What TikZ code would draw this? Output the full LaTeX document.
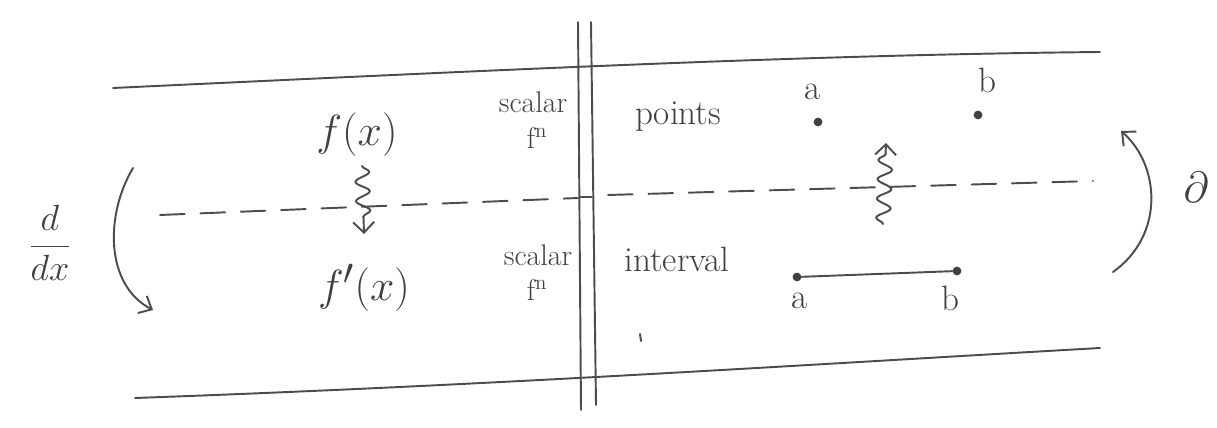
\documentclass[tikz,border=0pt]{standalone}
\usetikzlibrary{decorations.pathmorphing,arrows.meta}
\begin{document}
\begin{tikzpicture}[x=0.02cm,y=-0.02cm,
  ink/.style={draw=black!70, line width=1.1pt, line cap=round},
  dashline/.style={ink, dash pattern=on 14pt off 9pt},
  lbl/.style={text=black!75, inner sep=0pt},
  big/.style={lbl, font=\fontsize{32}{36}\selectfont},
  mid/.style={lbl, font=\fontsize{20}{23}\selectfont},
  small/.style={lbl, font=\fontsize{17}{18}\selectfont},
  pt/.style={circle, fill=black!75, inner sep=0pt, minimum size=5pt},
  wiggle/.style={ink, -{Straight Barb[length=6pt,width=12pt]},
    decorate, decoration={snake, amplitude=4pt, segment length=11pt, post length=5pt}},
  turnarrow/.style={ink, -{Straight Barb[length=6pt,width=11pt]}}]
\useasboundingbox (0,0) rectangle (1217,428);

% upper and lower borders
\coordinate (tl) at (113,88);  \coordinate (tr) at (1100,52);
\coordinate (bl) at (135,398); \coordinate (br) at (1100,348);
\draw[ink] (tl) .. controls (500,70) and (800,55) .. (tr);
\draw[ink] (bl) .. controls (500,385) and (800,365) .. (br);
\draw[ink] (640,334) -- (641,341);

% double divider
\coordinate (v1t) at (578,22); \coordinate (v1b) at (581,410);
\coordinate (v2t) at (591,22); \coordinate (v2b) at (596,405);
\draw[ink] (v1t) -- (v1b);
\draw[ink] (v2t) -- (v2b);

% dashed middle line
\coordinate (dl) at (160,215); \coordinate (dm) at (578,198);
\coordinate (dn) at (608,195); \coordinate (dr) at (1093,181);
\draw[dashline] (dl) -- (dm);
\draw[ink] (580,197) -- (592,197);
\draw[dashline] (dn) -- (dr);

% left side: functions
\node[big] (f)  at (357,135) {$f(x)$};
\node[big] (fp) at (364,288) {$f'(x)$};
\coordinate (fw1) at (362,166); \coordinate (fw2) at (364,234);
\draw[wiggle] (fw1) -- (fw2);
\node[small] (s1)  at (533,102) {scalar};
\node[small] (s1n) at (537,138) {f\textsuperscript{n}};
\node[small] (s2)  at (538,255) {scalar};
\node[small] (s2n) at (537,290) {f\textsuperscript{n}};

% derivative
\node[lbl, font=\fontsize{21}{25}\selectfont] (ddx) at (50,243) {$\displaystyle\frac{d}{dx}$};
\coordinate (la) at (133,168); \coordinate (lb) at (153,310);
\draw[turnarrow] (la) .. controls (105,215) and (105,285) .. (lb);

% right side: points and interval
\node[mid] (pts) at (678,117) {points};
\node[mid] (int) at (677,259) {interval};
\node[pt] (pa) at (818,122) {};
\node[pt] (pb) at (978,115) {};
\node[mid] at (813,92) {a};
\node[mid] at (987,80) {b};
\node[pt] (ia) at (797,277) {};
\node[pt] (ib) at (957,271) {};
\draw[ink] (ia) -- (ib);
\node[mid] at (800,301) {a};
\node[mid] at (950,298) {b};
\coordinate (wb) at (883,224); \coordinate (wt) at (886,143);
\draw[wiggle] (wb) -- (wt);

% boundary operator
\node[lbl, font=\fontsize{30}{34}\selectfont] (del) at (1196,187) {$\partial$};
\coordinate (ra) at (1113,272); \coordinate (rb) at (1121,131);
\draw[turnarrow] (ra) .. controls (1165,235) and (1160,165) .. (rb);
\end{tikzpicture}
\end{document}
